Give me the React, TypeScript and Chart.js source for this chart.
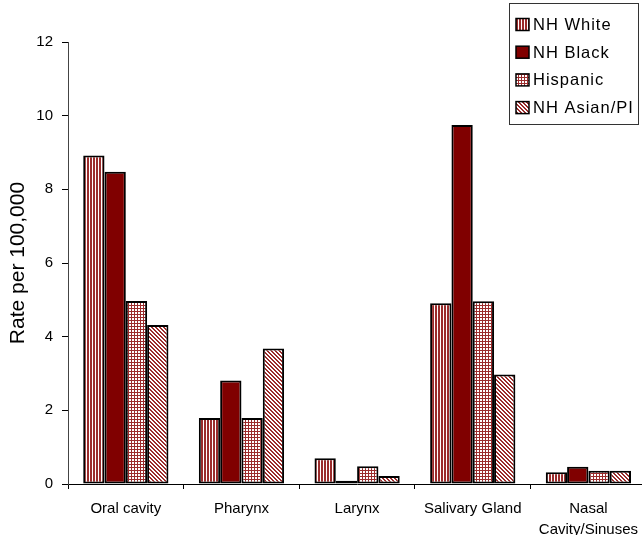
import React, { useEffect, useRef } from "react";
import { Chart, registerables } from "chart.js";

Chart.register(...registerables);

const categories: (string | string[])[] = [
  "Oral cavity",
  "Pharynx",
  "Larynx",
  "Salivary Gland",
  ["Nasal", "Cavity/Sinuses"],
];
const seriesNames = ["NH White", "NH Black", "Hispanic", "NH Asian/PI"];
const nhWhite = [8.92, 1.79, 0.7, 4.91, 0.32];
const nhBlack = [8.48, 2.81, 0.09, 9.75, 0.47];
const hispanic = [4.97, 1.79, 0.48, 4.96, 0.36];
const asianPI = [4.32, 3.68, 0.22, 2.97, 0.36];
const yTicks = [0, 2, 4, 6, 8, 10, 12];

const FONT = "'Liberation Sans', Arial, sans-serif";
const RED = "#9b2c2c";
const MAROON = "#800000";

function makePattern(kind: string): CanvasPattern | string {
  if (kind === "solid") return MAROON;
  const c = document.createElement("canvas");
  const size = kind === "diag" ? 4 : 3;
  c.width = size;
  c.height = size;
  const g = c.getContext("2d")!;
  g.fillStyle = "#ffffff";
  g.fillRect(0, 0, size, size);
  g.fillStyle = RED;
  if (kind === "vert") {
    g.fillRect(0, 0, 2, 3);
  } else if (kind === "grid") {
    g.fillRect(2, 0, 1, 3);
    g.fillRect(0, 2, 3, 1);
  } else if (kind === "diag") {
    for (let i = 0; i < 4; i++) {
      g.fillRect(i, i, 1, 1);
      g.fillRect((i + 1) % 4, i, 1, 1);
    }
  }
  const p = g.createPattern(c, "repeat");
  return p || RED;
}

export default function App() {
  const ref = useRef<HTMLCanvasElement>(null);

  useEffect(() => {
    const canvas = ref.current!;
    const fills = [
      makePattern("vert"),
      makePattern("solid"),
      makePattern("grid"),
      makePattern("diag"),
    ];
    const values = [nhWhite, nhBlack, hispanic, asianPI];

    const legendPlugin = {
      id: "boxLegend",
      afterDraw(chart: any) {
        const ctx = chart.ctx as CanvasRenderingContext2D;
        ctx.save();
        ctx.strokeStyle = "#333";
        ctx.lineWidth = 1;
        ctx.strokeRect(509.5, 3.5, 129, 121);
        ctx.font = `16.5px ${FONT}`;
        (ctx as any).letterSpacing = "1px";
        ctx.textBaseline = "middle";
        ctx.textAlign = "left";
        chart.data.datasets.forEach((ds: any, i: number) => {
          const cy = 24.5 + i * 27.7;
          ctx.fillStyle = ds.backgroundColor;
          ctx.fillRect(516, cy - 6, 13, 12);
          ctx.strokeStyle = "#000";
          ctx.lineWidth = 1.5;
          ctx.strokeRect(516, cy - 6, 13, 12);
          ctx.fillStyle = "#000";
          ctx.fillText(ds.label, 533, cy + 1);
        });
        ctx.restore();
      },
    };

    const chart = new Chart(canvas, {
      type: "bar",
      data: {
        labels: categories,
        datasets: seriesNames.map((name, i) => ({
          label: name,
          data: values[i],
          backgroundColor: fills[i] as any,
          borderColor: "#000",
          borderWidth: 2,
          borderSkipped: false,
          categoryPercentage: 0.737,
          barPercentage: 1,
        })),
      },
      options: {
        responsive: false,
        animation: false,
        devicePixelRatio: 1,
        layout: { padding: { top: 42, right: 0, bottom: 0, left: 0 } },
        plugins: {
          legend: { display: false },
          tooltip: { enabled: false },
        },
        scales: {
          x: {
            offset: true,
            grid: {
              offset: true,
              drawOnChartArea: false,
              drawTicks: true,
              tickLength: 5,
              color: "#000",
            },
            border: { display: true, color: "#000", width: 1 },
            ticks: {
              color: "#000",
              padding: 9,
              maxRotation: 0,
              autoSkip: false,
              font: { family: FONT, size: 15, lineHeight: 1.4 },
            },
            afterFit(scale: any) {
              scale.height = 51;
            },
          },
          y: {
            min: 0,
            max: 12,
            afterBuildTicks(scale: any) {
              scale.ticks = yTicks.map((v) => ({ value: v }));
            },
            grid: {
              drawOnChartArea: false,
              drawTicks: true,
              tickLength: 6,
              color: "#000",
            },
            border: { display: true, color: "#444", width: 1 },
            ticks: {
              color: "#000",
              padding: 9,
              font: { family: FONT, size: 15 },
            },
            title: {
              display: true,
              text: "Rate per 100,000",
              color: "#000",
              font: { family: FONT, size: 21 },
              padding: { top: 6, bottom: 0 },
            },
            afterFit(scale: any) {
              scale.width = 68;
            },
          },
        },
      },
      plugins: [legendPlugin],
    });
    return () => chart.destroy();
  }, []);

  return (
    <div
      style={{
        position: "fixed",
        left: 0,
        top: 0,
        width: 642,
        height: 535,
        overflow: "hidden",
        background: "#fff",
      }}
    >
      <canvas ref={ref} width={647} height={535} style={{ display: "block" }} />
    </div>
  );
}
